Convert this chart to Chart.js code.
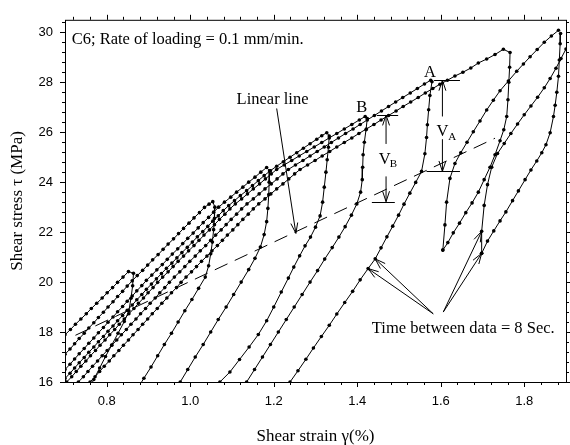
<!DOCTYPE html>
<html lang="en">
<head>
    <meta charset="UTF-8">
    <title>C6 shear stress vs shear strain</title>
    <script src="https://cdn.jsdelivr.net/npm/chart.js"></script>
    <style>
        * { margin: 0; padding: 0; box-sizing: border-box; }
        body { background: #fff; width: 570px; height: 445px; overflow: hidden; }
        #chart { display: block; }
    </style>
</head>
<body>
    <canvas id="chart" width="570" height="445"></canvas>

    <script>
        // axis ticks
        const xLabels = [0.8, 1.0, 1.2, 1.4, 1.6, 1.8];
        const yLabels = [16, 18, 20, 22, 24, 26, 28, 30];
        const xTicks = [0.72, 0.76, 0.80, 0.84, 0.88, 0.92, 0.96, 1.00, 1.04, 1.08, 1.12, 1.16, 1.20, 1.24, 1.28,
            1.32, 1.36, 1.40, 1.44, 1.48, 1.52, 1.56, 1.60, 1.64, 1.68, 1.72, 1.76, 1.80, 1.84, 1.88];
        const yTicks = [16, 16.4, 16.8, 17.2, 17.6, 18, 18.4, 18.8, 19.2, 19.6, 20, 20.4, 20.8, 21.2, 21.6, 22,
            22.4, 22.8, 23.2, 23.6, 24, 24.4, 24.8, 25.2, 25.6, 26, 26.4, 26.8, 27.2, 27.6, 28, 28.4, 28.8, 29.2,
            29.6, 30, 30.4];

        // loading branches [strain %, stress MPa]
        const loadP1 = [[0.687,17.68],[0.700,17.89],[0.713,18.10],[0.725,18.31],[0.738,18.52],[0.751,18.73],[0.763,18.94],
            [0.776,19.15],[0.789,19.36],[0.801,19.57],[0.814,19.78],[0.826,19.99],[0.839,20.20],[0.852,20.42]];
        const loadP2 = [[0.689,16.90],[0.700,17.11],[0.712,17.32],[0.723,17.53],[0.734,17.74],[0.746,17.95],[0.757,18.16],
            [0.769,18.37],[0.780,18.58],[0.792,18.79],[0.803,19.00],[0.815,19.21],[0.826,19.42],[0.838,19.63],[0.849,19.84],
            [0.861,20.05],[0.873,20.26],[0.886,20.47],[0.898,20.68],[0.910,20.89],[0.923,21.10],[0.935,21.31],[0.947,21.52],
            [0.960,21.73],[0.972,21.94],[0.984,22.15],[0.997,22.36],[1.009,22.57],[1.022,22.78],[1.034,22.99],[1.045,23.12],
            [1.054,23.22]];
        const loadP3 = [[0.689,16.30],[0.700,16.50],[0.712,16.71],[0.723,16.92],[0.734,17.13],[0.746,17.34],[0.757,17.55],
            [0.769,17.76],[0.780,17.97],[0.792,18.18],[0.803,18.39],[0.815,18.60],[0.826,18.81],[0.838,19.02],[0.849,19.23],
            [0.861,19.44],[0.872,19.65],[0.884,19.86],[0.895,20.07],[0.908,20.28],[0.920,20.49],[0.933,20.70],[0.945,20.91],
            [0.957,21.12],[0.970,21.33],[0.982,21.54],[0.994,21.75],[1.007,21.96],[1.019,22.17],[1.031,22.38],[1.044,22.59],
            [1.056,22.80],[1.068,23.00],[1.082,23.20],[1.097,23.40],[1.111,23.60],[1.126,23.80],[1.140,24.00],[1.155,24.20],
            [1.169,24.40],[1.183,24.59]];
        const loadP4 = [[0.690,15.96],[0.700,16.14],[0.712,16.35],[0.723,16.56],[0.734,16.77],[0.746,16.98],[0.757,17.19],
            [0.769,17.40],[0.780,17.61],[0.792,17.82],[0.803,18.03],[0.815,18.24],[0.826,18.45],[0.838,18.66],[0.849,18.87],
            [0.861,19.08],[0.872,19.29],[0.884,19.50],[0.895,19.71],[0.907,19.92],[0.919,20.13],[0.931,20.34],[0.943,20.55],
            [0.956,20.76],[0.968,20.97],[0.980,21.18],[0.993,21.39],[1.005,21.60],[1.017,21.81],[1.030,22.02],[1.042,22.23],
            [1.054,22.44],[1.067,22.65],[1.079,22.86],[1.092,23.06],[1.106,23.26],[1.120,23.46],[1.135,23.66],[1.149,23.86],
            [1.163,24.06],[1.177,24.26],[1.192,24.46],[1.207,24.64],[1.223,24.82],[1.239,25.00],[1.255,25.18],[1.271,25.36],
            [1.287,25.54],[1.303,25.72],[1.315,25.86],[1.327,25.98]];
        const loadB = [[0.693,15.80],[0.704,16.00],[0.716,16.21],[0.727,16.42],[0.738,16.63],[0.750,16.84],[0.761,17.05],
            [0.773,17.26],[0.784,17.47],[0.796,17.68],[0.807,17.89],[0.819,18.10],[0.830,18.31],[0.842,18.52],[0.853,18.73],
            [0.865,18.94],[0.876,19.15],[0.888,19.36],[0.899,19.57],[0.911,19.78],[0.922,19.99],[0.934,20.20],[0.947,20.41],
            [0.959,20.62],[0.971,20.83],[0.984,21.04],[0.996,21.25],[1.009,21.46],[1.021,21.67],[1.033,21.88],[1.046,22.09],
            [1.058,22.30],[1.070,22.51],[1.083,22.72],[1.095,22.93],[1.108,23.13],[1.123,23.33],[1.137,23.53],[1.151,23.73],
            [1.166,23.93],[1.180,24.13],[1.194,24.33],[1.207,24.51],[1.225,24.69],[1.243,24.87],[1.261,25.05],[1.279,25.23],
            [1.297,25.41],[1.315,25.59],[1.333,25.77],[1.351,25.95],[1.369,26.13],[1.387,26.31],[1.405,26.49],[1.419,26.63]];
        const loadA = [[0.721,15.80],[0.732,16.00],[0.744,16.21],[0.755,16.42],[0.766,16.63],[0.778,16.84],[0.789,17.05],
            [0.801,17.26],[0.812,17.47],[0.824,17.68],[0.835,17.89],[0.847,18.10],[0.858,18.31],[0.870,18.52],[0.881,18.73],
            [0.893,18.94],[0.904,19.15],[0.916,19.36],[0.927,19.57],[0.939,19.78],[0.950,19.99],[0.962,20.20],[0.975,20.41],
            [0.987,20.62],[0.999,20.83],[1.012,21.04],[1.024,21.25],[1.037,21.46],[1.049,21.67],[1.061,21.88],[1.074,22.09],
            [1.086,22.30],[1.098,22.51],[1.111,22.72],[1.123,22.93],[1.136,23.13],[1.151,23.33],[1.165,23.53],[1.179,23.73],
            [1.194,23.93],[1.208,24.13],[1.222,24.33],[1.235,24.51],[1.252,24.69],[1.270,24.87],[1.287,25.05],[1.304,25.23],
            [1.321,25.41],[1.338,25.59],[1.355,25.77],[1.372,25.95],[1.390,26.13],[1.407,26.31],[1.424,26.49],[1.441,26.67],
            [1.458,26.85],[1.475,27.03],[1.492,27.21],[1.509,27.39],[1.527,27.57],[1.544,27.75],[1.561,27.93],[1.576,28.08]];
        const loadP7 = [[0.749,15.80],[0.760,16.00],[0.772,16.21],[0.783,16.42],[0.794,16.63],[0.806,16.84],[0.817,17.05],
            [0.829,17.26],[0.840,17.47],[0.852,17.68],[0.863,17.89],[0.875,18.10],[0.886,18.31],[0.898,18.52],[0.909,18.73],
            [0.921,18.94],[0.932,19.15],[0.944,19.36],[0.955,19.57],[0.967,19.78],[0.978,19.99],[0.990,20.20],[1.003,20.41],
            [1.015,20.62],[1.027,20.83],[1.040,21.04],[1.052,21.25],[1.065,21.46],[1.077,21.67],[1.089,21.88],[1.102,22.09],
            [1.114,22.30],[1.126,22.51],[1.139,22.72],[1.151,22.93],[1.164,23.13],[1.179,23.33],[1.193,23.53],[1.207,23.73],
            [1.222,23.93],[1.236,24.13],[1.250,24.33],[1.263,24.51],[1.281,24.69],[1.299,24.87],[1.316,25.05],[1.334,25.23],
            [1.351,25.41],[1.369,25.59],[1.387,25.77],[1.404,25.95],[1.422,26.13],[1.440,26.31],[1.457,26.49],[1.475,26.67],
            [1.493,26.85],[1.510,27.03],[1.528,27.21],[1.546,27.39],[1.563,27.57],[1.581,27.75],[1.598,27.92],[1.616,28.08],
            [1.634,28.25],[1.653,28.40],[1.672,28.57],[1.690,28.77],[1.710,28.93],[1.730,29.11],[1.750,29.32]];

        // hold, drop and unloading branches
        const unloadP1 = [[0.864,20.35],[0.862,19.85],[0.858,19.35],[0.853,18.85],[0.842,18.42],[0.827,17.95],[0.812,17.48],
            [0.797,17.02],[0.783,16.56],[0.769,16.10],[0.762,15.88]];
        const unloadP2 = [[1.059,23.00],[1.058,22.55],[1.056,22.10],[1.053,21.60],[1.049,21.13],[1.044,20.65],[1.036,20.20],
            [1.020,19.75],[1.004,19.30],[0.987,18.85],[0.971,18.40],[0.955,17.95],[0.938,17.50],[0.922,17.05],[0.906,16.60],
            [0.889,16.15],[0.878,15.85]];
        const unloadP3 = [[1.190,24.45],[1.189,24.00],[1.188,23.50],[1.186,22.95],[1.183,22.42],[1.177,21.90],[1.168,21.40],
            [1.155,20.95],[1.140,20.50],[1.122,20.00],[1.104,19.50],[1.086,19.00],[1.067,18.50],[1.049,18.00],[1.031,17.50],
            [1.012,17.00],[0.994,16.50],[0.976,16.00],[0.970,15.85]];
        const unloadP4 = [[1.333,25.85],[1.331,25.40],[1.328,24.90],[1.325,24.40],[1.321,23.80],[1.317,23.20],[1.311,22.65],
            [1.300,22.20],[1.288,21.80],[1.275,21.45],[1.262,21.05],[1.248,20.60],[1.235,20.16],[1.218,19.60],[1.200,19.00],
            [1.183,18.45],[1.163,17.90],[1.141,17.40],[1.118,16.90],[1.095,16.40],[1.071,16.00],[1.063,15.85]];
        const unloadB = [[1.424,26.55],[1.421,26.10],[1.417,25.60],[1.414,25.10],[1.413,24.60],[1.412,24.10],[1.408,23.60],
            [1.399,23.13],[1.386,22.68],[1.371,22.22],[1.356,21.80],[1.340,21.38],[1.322,20.92],[1.305,20.46],[1.287,20.00],
            [1.268,19.50],[1.249,19.00],[1.230,18.50],[1.211,18.00],[1.192,17.50],[1.173,17.00],[1.154,16.50],[1.135,16.00],
            [1.130,15.86]];
        const unloadA = [[1.579,28.02],[1.574,27.47],[1.571,26.90],[1.568,26.30],[1.566,25.79],[1.562,25.14],[1.554,24.43],
            [1.540,23.99],[1.526,23.56],[1.512,23.12],[1.499,22.68],[1.485,22.24],[1.471,21.81],[1.457,21.37],[1.443,20.93],
            [1.426,20.54],[1.407,20.09],[1.389,19.63],[1.370,19.18],[1.351,18.72],[1.333,18.27],[1.314,17.82],[1.295,17.36],
            [1.277,16.91],[1.258,16.45],[1.239,16.00],[1.233,15.85]];
        const dropP7 = [[1.766,29.19],[1.765,28.60],[1.763,28.00],[1.761,27.30],[1.758,26.63],[1.751,26.10],[1.742,25.66],
            [1.730,25.10],[1.718,24.60],[1.704,24.10],[1.690,23.60],[1.675,23.17],[1.660,22.78],[1.645,22.36],[1.630,21.97],
            [1.617,21.58],[1.605,21.28]];
        const reloadP8 = [[1.605,21.28],[1.610,22.29],[1.614,23.20],[1.622,24.15],[1.634,24.75],[1.648,25.18],[1.663,25.60],
            [1.678,26.02],[1.694,26.45],[1.710,26.89],[1.726,27.28],[1.742,27.66],[1.762,28.05],[1.782,28.44],[1.798,28.73],
            [1.814,29.02],[1.831,29.31],[1.848,29.60],[1.865,29.85],[1.882,30.08]];
        const dropP8 = [[1.887,29.95],[1.886,29.54],[1.884,28.89],[1.882,28.24],[1.878,27.60],[1.874,27.08],[1.870,26.63],
            [1.862,25.98],[1.852,25.50],[1.842,25.18],[1.830,24.85],[1.816,24.49],[1.802,24.10],[1.786,23.65],[1.772,23.26],
            [1.756,22.81],[1.742,22.45],[1.727,22.05],[1.712,21.64],[1.698,21.15]];
        const reload9 = [[1.698,21.15],[1.698,22.03],[1.704,23.07],[1.712,23.90],[1.722,24.60],[1.736,25.15],[1.752,25.55],
            [1.768,25.95],[1.784,26.33],[1.800,26.70],[1.816,27.05],[1.832,27.40],[1.848,27.78],[1.862,28.15],[1.876,28.56],
            [1.888,28.95],[1.900,29.33],[1.911,29.70]];

        // fitted linear line
        const linearX = [0.725, 1.730];
        const linearY = [17.87, 25.76];

        const branches = [
            [...loadP1, ...unloadP1],
            [...loadP2, ...unloadP2],
            [...loadP3, ...unloadP3],
            [...loadP4, ...unloadP4],
            [...loadB, ...unloadB],
            [...loadA, ...unloadA],
            [...loadP7, ...dropP7],
            reloadP8,
            dropP8,
            reload9
        ];

        const datasets = branches.map(pts => ({
            data: pts.map(p => ({ x: p[0], y: p[1] })),
            showLine: true,
            borderColor: '#000',
            borderWidth: 1,
            pointRadius: 1.8,
            pointBackgroundColor: '#000',
            pointBorderWidth: 0,
            tension: 0
        }));
        datasets.push({
            data: linearX.map((v, i) => ({ x: v, y: linearY[i] })),
            showLine: true,
            borderColor: '#000',
            borderWidth: 1,
            borderDash: [14, 8],
            pointRadius: 0
        });

        // annotation layout (in data units)
        const labels = [
            { text: 'C6; Rate of loading = 0.1 mm/min.', x: 0.716, y: 29.52, size: 16.5, align: 'left' },
            { text: 'Linear line', x: 1.111, y: 27.13, size: 16.5, align: 'left' },
            { text: 'B', x: 1.411, y: 26.81, size: 16.5, align: 'center' },
            { text: 'A', x: 1.574, y: 28.23, size: 16.5, align: 'center' },
            { text: 'V', x: 1.466, y: 24.74, size: 16.5, align: 'center' },
            { text: 'B', x: 1.478, y: 24.60, size: 11, align: 'left' },
            { text: 'V', x: 1.604, y: 25.84, size: 16.5, align: 'center' },
            { text: 'A', x: 1.618, y: 25.70, size: 11, align: 'left' },
            { text: 'Time between data = 8 Sec.', x: 1.435, y: 17.98, size: 16.5, align: 'left' }
        ];
        const levels = [
            { y: 26.69, x1: 1.447, x2: 1.498 },
            { y: 23.22, x1: 1.435, x2: 1.490 },
            { y: 28.08, x1: 1.584, x2: 1.646 },
            { y: 24.43, x1: 1.566, x2: 1.646 }
        ];
        const arrows = [
            [1.207, 26.95, 1.253, 21.95],
            [1.469, 25.53, 1.469, 26.69],
            [1.469, 24.23, 1.469, 23.22],
            [1.604, 26.63, 1.604, 28.08],
            [1.604, 25.72, 1.604, 24.43],
            [1.582, 18.73, 1.443, 20.93],
            [1.582, 18.73, 1.426, 20.54],
            [1.606, 18.80, 1.698, 22.03],
            [1.606, 18.80, 1.698, 21.15]
        ];

        const frame = {
            id: 'frame',
            afterDraw(chart) {
                const { ctx, chartArea: a, scales: { x, y } } = chart;
                ctx.save();
                ctx.strokeStyle = '#000';
                ctx.lineWidth = 1;
                ctx.strokeRect(a.left + 0.5, a.top + 0.5, a.right - a.left, a.bottom - a.top);
                ctx.beginPath();
                xTicks.forEach(v => {
                    const px = Math.round(x.getPixelForValue(v)) + 0.5;
                    const len = Math.abs(v / 0.2 - Math.round(v / 0.2)) < 1e-6 ? 5 : 3;
                    ctx.moveTo(px, a.bottom); ctx.lineTo(px, a.bottom + len);
                    ctx.moveTo(px, a.top); ctx.lineTo(px, a.top - len);
                });
                yTicks.forEach(v => {
                    const py = Math.round(y.getPixelForValue(v)) + 0.5;
                    const len = Math.abs(v / 2 - Math.round(v / 2)) < 1e-6 ? 5 : 3;
                    ctx.moveTo(a.left, py); ctx.lineTo(a.left - len, py);
                    ctx.moveTo(a.right, py); ctx.lineTo(a.right + len, py);
                });
                ctx.stroke();
                ctx.restore();
            }
        };

        const notes = {
            id: 'notes',
            afterDatasetsDraw(chart) {
                const { ctx, scales: { x, y } } = chart;
                const X = v => x.getPixelForValue(v);
                const Y = v => y.getPixelForValue(v);
                ctx.save();
                ctx.strokeStyle = '#000';
                ctx.fillStyle = '#000';
                ctx.lineWidth = 1;
                ctx.textBaseline = 'alphabetic';
                labels.forEach(t => {
                    ctx.font = t.size + 'px "Liberation Serif"';
                    ctx.textAlign = t.align;
                    ctx.fillText(t.text, X(t.x), Y(t.y));
                });
                ctx.beginPath();
                levels.forEach(l => {
                    ctx.moveTo(X(l.x1), Math.round(Y(l.y)) + 0.5);
                    ctx.lineTo(X(l.x2), Math.round(Y(l.y)) + 0.5);
                });
                arrows.forEach(([x1, y1, x2, y2]) => {
                    const ax = X(x1), ay = Y(y1), bx = X(x2), by = Y(y2);
                    const ang = Math.atan2(by - ay, bx - ax);
                    ctx.moveTo(ax, ay);
                    ctx.lineTo(bx, by);
                    ctx.moveTo(bx - 11 * Math.cos(ang - 0.32), by - 11 * Math.sin(ang - 0.32));
                    ctx.lineTo(bx, by);
                    ctx.lineTo(bx - 11 * Math.cos(ang + 0.32), by - 11 * Math.sin(ang + 0.32));
                });
                ctx.stroke();
                ctx.restore();
            }
        };

        new Chart(document.getElementById('chart'), {
            type: 'scatter',
            data: { datasets },
            options: {
                responsive: false,
                animation: false,
                events: [],
                layout: { padding: { left: 0, right: 4, top: 8, bottom: 0 } },
                plugins: { legend: { display: false }, tooltip: { enabled: false } },
                scales: {
                    x: {
                        type: 'linear',
                        min: 0.7,
                        max: 1.9,
                        afterBuildTicks: s => { s.ticks = xLabels.map(v => ({ value: v })); },
                        afterFit: s => { s.height = 63; },
                        grid: { display: false, drawTicks: false },
                        border: { display: false },
                        ticks: {
                            padding: 12,
                            color: '#000',
                            font: { family: 'Liberation Sans', size: 13 },
                            callback: v => v.toFixed(1)
                        },
                        title: {
                            display: true,
                            text: 'Shear strain γ(%)',
                            color: '#000',
                            font: { family: 'Liberation Serif', size: 17, lineHeight: 1 },
                            padding: { top: 0, bottom: 0 }
                        }
                    },
                    y: {
                        type: 'linear',
                        min: 16,
                        max: 30.5,
                        afterBuildTicks: s => { s.ticks = yLabels.map(v => ({ value: v })); },
                        afterFit: s => { s.width = 65; },
                        grid: { display: false, drawTicks: false },
                        border: { display: false },
                        ticks: {
                            padding: 12,
                            color: '#000',
                            font: { family: 'Liberation Sans', size: 13 },
                            callback: v => String(v)
                        },
                        title: {
                            display: true,
                            text: 'Shear stress τ (MPa)',
                            color: '#000',
                            font: { family: 'Liberation Serif', size: 17, lineHeight: 1 },
                            padding: { top: 9, bottom: 0 }
                        }
                    }
                }
            },
            plugins: [frame, notes]
        });
    </script>
</body>
</html>
